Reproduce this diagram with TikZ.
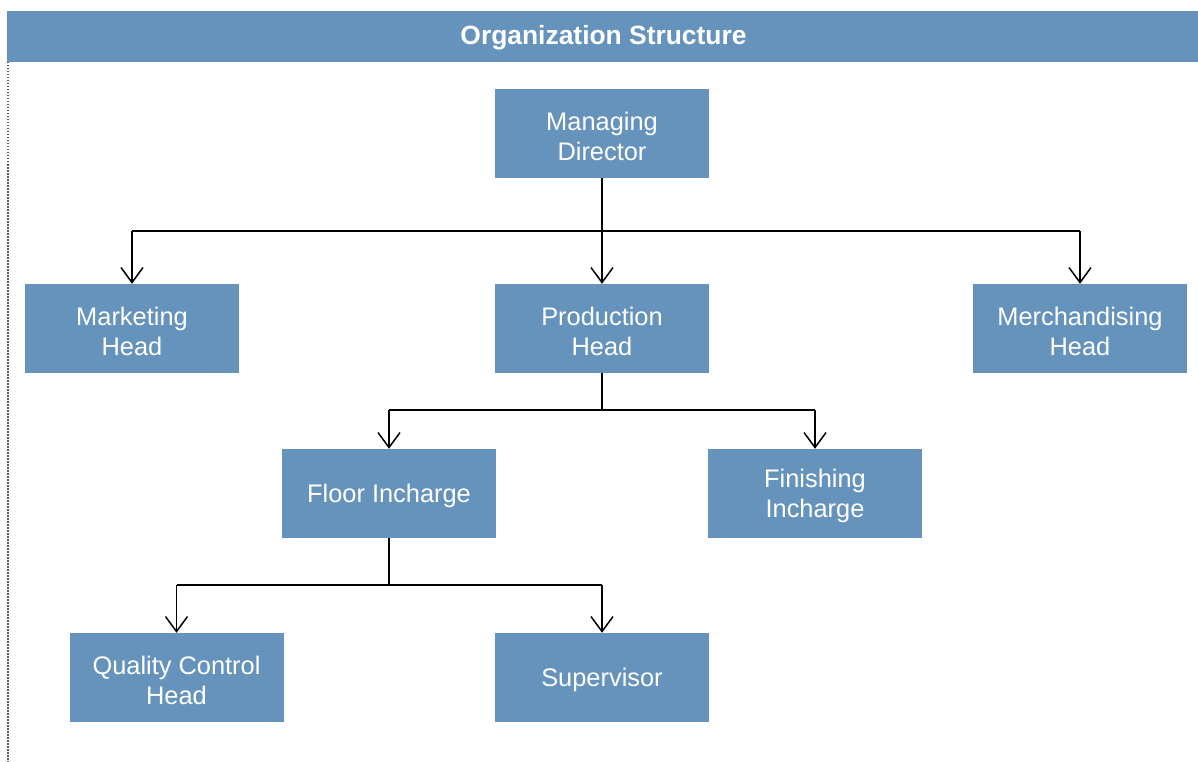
\documentclass[tikz,border=0pt]{standalone}
\usepackage{fontspec}
\setmainfont{Liberation Sans}
\usetikzlibrary{arrows.meta}
\definecolor{boxblue}{RGB}{101,147,188}
\begin{document}
\begin{tikzpicture}[x=1pt,y=-1pt,
  role/.style={fill=boxblue, minimum width=214pt, minimum height=89pt, inner sep=0pt},
  roletext/.style={text=white, inner sep=0pt, align=center, font=\fontsize{25.4}{30}\selectfont},
  link/.style={line width=1.5pt, black},
  arr/.style={link, -{Straight Barb[length=15pt,width=22pt,line width=1.5pt]}}]
\useasboundingbox (0,0) rectangle (1198,762);
% title bar
\fill[boxblue] (7,11) rectangle (1198,62);
\node[text=white, inner sep=0pt, font=\bfseries\fontsize{26.4}{30}\selectfont] (title) at (603.5,38) {Organization Structure};
% left frame edge
\draw[gray!70!black, line width=1.5pt, dash pattern=on 1.5pt off 1.5pt] (7.75,62) -- (7.75,762);
% boxes
\node[role] (md)  at (602,133.5) {};
\node[role] (mkt) at (132,328.5) {};
\node[role] (prd) at (602,328.5) {};
\node[role] (mer) at (1080,328.5) {};
\node[role] (flr) at (389,493.5) {};
\node[role] (fin) at (815,493.5) {};
\node[role] (qc)  at (176.5,677.5) {};
\node[role] (sup) at (602,677.5) {};
% box labels, set a little below the box centres
\node[roletext] (mdt)  at ([yshift=-2.5pt]md.center)  {Managing\\Director};
\node[roletext] (mktt) at ([yshift=-2.5pt]mkt.center) {Marketing\\Head};
\node[roletext] (prdt) at ([yshift=-2.5pt]prd.center) {Production\\Head};
\node[roletext] (mert) at ([yshift=-2.5pt]mer.center) {Merchandising\\Head};
\node[roletext] (flrt) at ([yshift=-2.5pt]flr.center) {Floor Incharge};
\node[roletext] (fint) at ([yshift=-2.5pt]fin.center) {Finishing\\Incharge};
\node[roletext] (qct)  at ([yshift=-2.5pt]qc.center)  {Quality Control\\Head};
\node[roletext] (supt) at ([yshift=-2.5pt]sup.center) {Supervisor};
% bus junctions
\coordinate (j1) at (602,231);
\coordinate (j2) at (602,410);
\coordinate (j3) at (389,585);
% managing director level
\draw[link] (md.south) -- (j1);
\draw[link] (mkt |- j1) -- (mer |- j1);
\draw[arr] (mkt |- j1) -- (mkt.north);
\draw[arr] (j1) -- (prd.north);
\draw[arr] (mer |- j1) -- (mer.north);
% production level
\draw[link] (prd.south) -- (j2);
\draw[link] (flr |- j2) -- (fin |- j2);
\draw[arr] (flr |- j2) -- (flr.north);
\draw[arr] (fin |- j2) -- (fin.north);
% floor level
\draw[link] (flr.south) -- (j3);
\draw[link] (qc |- j3) -- (sup |- j3);
\draw[arr] (qc |- j3) -- (qc.north);
\draw[arr] (sup |- j3) -- (sup.north);
\end{tikzpicture}
\end{document}
